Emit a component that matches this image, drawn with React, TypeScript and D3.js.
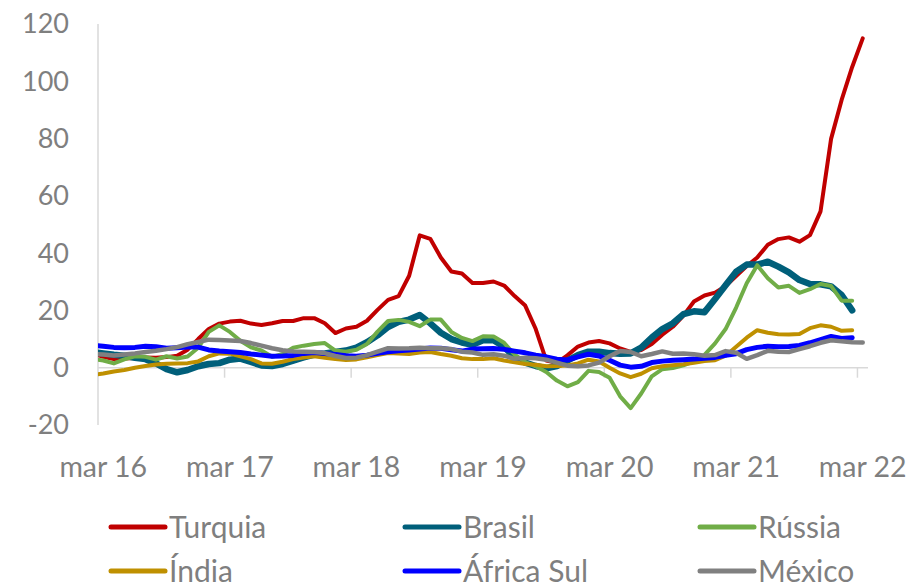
import { useEffect, useRef } from 'react';
import * as d3 from 'd3';

// monthly PPI y/y, first value is feb 16 (index -1), then mar 16 onwards
const startIndex = -1;

const xLabels = ['mar 16', 'mar 17', 'mar 18', 'mar 19', 'mar 20', 'mar 21', 'mar 22'];
const yTicks = [-20, 0, 20, 40, 60, 80, 100, 120];

const turquia = [5.0,
  3.8, 3.0, 3.2, 3.4, 3.6, 3.5, 3.7, 4.2, 6.3, 10.0, 13.5, 15.4,
  16.1, 16.4, 15.4, 14.9, 15.5, 16.3, 16.3, 17.3, 17.3, 15.5, 12.1, 13.7,
  14.3, 16.4, 20.2, 23.7, 25.0, 32.1, 46.2, 45.0, 38.5, 33.6, 32.9, 29.6,
  29.6, 30.1, 28.7, 25.0, 21.7, 13.5, 2.5, 1.7, 4.3, 7.4, 8.8, 9.3,
  8.5, 6.7, 5.5, 6.2, 8.3, 11.5, 14.3, 18.2, 23.1, 25.2, 26.2, 28.5,
  32.0, 35.5, 38.5, 42.9, 44.9, 45.5, 44.0, 46.3, 54.6, 79.9, 93.5, 105.0,
  115.0];

const brasil = [5.5,
  5.0, 4.5, 4.2, 3.5, 3.0, 1.5, -0.5, -1.6, -0.8, 0.5, 1.3, 1.6,
  2.8, 3.2, 2.0, 0.8, 0.6, 1.3, 2.5, 3.6, 4.6, 5.0, 5.5, 6.0,
  7.0, 8.9, 11.3, 14.2, 16.0, 16.8, 18.4, 15.5, 12.2, 10.0, 8.8, 8.0,
  9.6, 9.6, 7.3, 3.5, 1.8, 0.6, -0.2, 0.6, 2.5, 4.4, 5.6, 5.6,
  5.1, 4.9, 5.0, 7.0, 10.5, 13.5, 15.5, 18.7, 19.7, 19.4, 24.0, 28.8,
  33.5, 36.0, 36.0, 37.0, 35.3, 33.3, 30.6, 29.2, 29.1, 28.4, 25.4, 20.0];

const russia = [3.0,
  2.5, 1.5, 2.9, 4.0, 3.8, 2.8, 4.0, 3.2, 3.9, 7.0, 12.5, 14.8,
  12.5, 9.4, 7.1, 6.0, 3.8, 4.8, 7.0, 7.7, 8.3, 8.6, 6.0, 5.6,
  6.3, 8.3, 12.6, 16.3, 16.7, 16.0, 14.5, 16.8, 16.8, 12.5, 10.4, 9.3,
  11.0, 10.9, 8.7, 4.6, 2.0, 0.5, -1.5, -4.5, -6.5, -5.0, -1.1, -1.5,
  -3.5, -10.0, -14.1, -9.0, -3.0, -0.5, -0.1, 0.8, 2.2, 4.5, 8.5, 13.5,
  21.0, 29.5, 35.8, 31.2, 28.0, 28.6, 26.1, 27.4, 29.2, 28.5, 23.4, 23.4];

const india = [-2.6,
  -2.0, -1.3, -0.8, 0.0, 0.6, 1.1, 1.4, 1.5, 1.6, 2.2, 4.0, 5.0,
  4.9, 4.0, 3.0, 1.5, 1.4, 2.1, 3.0, 3.6, 4.0, 3.5, 3.0, 2.7,
  2.9, 3.6, 4.4, 5.1, 5.0, 4.8, 5.3, 5.5, 4.8, 4.2, 3.3, 3.0,
  3.0, 3.3, 2.5, 1.9, 1.3, 1.0, 0.5, 0.6, 0.8, 1.5, 2.8, 2.2,
  0.0, -2.0, -3.3, -2.1, -0.2, 0.5, 0.9, 1.2, 1.7, 2.3, 2.6, 4.2,
  7.3, 10.5, 13.1, 12.2, 11.7, 11.6, 11.8, 13.8, 14.8, 14.3, 12.9, 13.1];

const africaSul = [7.8,
  7.5, 7.1, 7.0, 7.1, 7.5, 7.3, 6.8, 7.0, 7.2, 7.2, 6.2, 5.8,
  5.6, 5.3, 4.8, 4.4, 4.0, 4.1, 4.3, 5.0, 5.3, 5.0, 4.6, 4.2,
  4.0, 4.4, 5.0, 5.6, 5.9, 6.2, 6.5, 6.9, 6.8, 6.3, 5.8, 6.5,
  6.6, 6.7, 6.4, 5.8, 5.2, 4.4, 3.8, 3.0, 2.7, 3.8, 4.7, 4.1,
  2.6, 0.9, 0.2, 0.5, 1.8, 2.3, 2.6, 2.8, 3.0, 3.3, 3.6, 4.3,
  4.9, 6.3, 7.1, 7.5, 7.3, 7.4, 7.8, 8.7, 9.8, 10.9, 10.2, 10.5];

const mexico = [4.8,
  4.6, 4.3, 4.6, 5.0, 5.5, 5.9, 6.5, 7.2, 8.2, 9.0, 9.8, 9.7,
  9.5, 9.3, 8.6, 7.7, 6.8, 6.1, 5.7, 5.6, 5.5, 5.1, 4.1, 3.4,
  3.5, 4.4, 5.6, 6.8, 6.7, 6.8, 7.0, 6.8, 6.8, 6.5, 5.6, 5.3,
  4.5, 4.7, 4.2, 3.1, 3.5, 3.3, 2.8, 1.8, 0.7, 0.5, 0.8, 1.8,
  4.0, 5.8, 5.5, 4.0, 4.8, 5.7, 4.9, 5.0, 4.7, 4.2, 4.4, 5.8,
  5.2, 3.1, 4.4, 5.9, 5.6, 5.5, 6.5, 7.5, 8.7, 9.6, 9.2, 8.9,
  8.8];

const series = [
  { name: 'Turquia', values: turquia, color: '#C00000', width: 4 },
  { name: 'Brasil', values: brasil, color: '#005F7A', width: 6.5 },
  { name: 'Rússia', values: russia, color: '#70AD47', width: 4 },
  { name: 'Índia', values: india, color: '#BF9000', width: 4 },
  { name: 'África Sul', values: africaSul, color: '#0000FF', width: 5 },
  { name: 'México', values: mexico, color: '#808080', width: 4.5 },
];

export default function App() {
  const svgRef = useRef<SVGSVGElement>(null);
  const width = 914;
  const height = 585;

  useEffect(() => {
    if (!svgRef.current) return;
    const svg = d3.select(svgRef.current);
    svg.selectAll('*').remove();

    const font = 'Lato, Calibri, sans-serif';
    const textColor = '#7F7F7F';
    const axisColor = '#D9D9D9';

    // month index: 0 = mar 16, 72 = mar 22, categories are 1 month wide
    const x = d3.scaleLinear().domain([-0.5, 72.5]).range([98, 868]);
    const y = d3.scaleLinear().domain([-20, 120]).range([425, 24]);

    svg.append('defs').append('clipPath')
      .attr('id', 'plot-clip')
      .append('rect')
      .attr('x', x(-0.5))
      .attr('y', 0)
      .attr('width', width - x(-0.5))
      .attr('height', height);

    // vertical axis line
    svg.append('line')
      .attr('x1', x(-0.5)).attr('x2', x(-0.5))
      .attr('y1', y(120)).attr('y2', y(-20))
      .attr('stroke', axisColor).attr('stroke-width', 1.5);

    // y labels
    svg.append('g')
      .selectAll('text')
      .data(yTicks)
      .join('text')
      .attr('x', 69)
      .attr('y', d => y(d))
      .attr('dy', '0.35em')
      .attr('text-anchor', 'end')
      .attr('fill', textColor)
      .attr('font-family', font)
      .attr('font-size', 27)
      .text(d => d);

    // horizontal zero axis with ticks between years
    svg.append('line')
      .attr('x1', x(-0.5)).attr('x2', x(72.5))
      .attr('y1', y(0)).attr('y2', y(0))
      .attr('stroke', axisColor).attr('stroke-width', 1.5);

    svg.append('g')
      .selectAll('line')
      .data(xLabels.slice(1).map((_, k) => 11.5 + k * 12))
      .join('line')
      .attr('x1', d => x(d)).attr('x2', d => x(d))
      .attr('y1', y(0)).attr('y2', y(0) + 10)
      .attr('stroke', axisColor).attr('stroke-width', 1.5);

    svg.append('g')
      .selectAll('text')
      .data(xLabels)
      .join('text')
      .attr('x', (_, k) => x(k * 12))
      .attr('y', 477)
      .attr('text-anchor', 'middle')
      .attr('fill', textColor)
      .attr('font-family', font)
      .attr('font-size', 28.5)
      .text(d => d);

    // lines
    const line = d3.line<number>()
      .x((_, i) => x(i + startIndex))
      .y(d => y(d));

    const plot = svg.append('g').attr('clip-path', 'url(#plot-clip)');
    series.forEach(s => {
      plot.append('path')
        .datum(s.values)
        .attr('fill', 'none')
        .attr('stroke', s.color)
        .attr('stroke-width', s.width)
        .attr('stroke-linejoin', 'round')
        .attr('stroke-linecap', 'round')
        .attr('d', line);
    });

    // legend
    const colX = [111, 405, 700];
    const rowY = [527, 571];
    const legend = svg.append('g');
    series.forEach((s, i) => {
      const g = legend.append('g')
        .attr('transform', `translate(${colX[i % 3]}, ${rowY[Math.floor(i / 3)]})`);
      g.append('line')
        .attr('x1', 0).attr('x2', 54)
        .attr('y1', 0).attr('y2', 0)
        .attr('stroke', s.color)
        .attr('stroke-width', 5)
        .attr('stroke-linecap', 'round');
      g.append('text')
        .attr('x', 58)
        .attr('y', 0)
        .attr('dy', '0.35em')
        .attr('fill', textColor)
        .attr('font-family', font)
        .attr('font-size', 30)
        .text(s.name);
    });
  }, []);

  return (
    <svg
      ref={svgRef}
      width={width}
      height={height}
      style={{ position: 'absolute', left: 0, top: 0, background: '#fff' }}
    />
  );
}
